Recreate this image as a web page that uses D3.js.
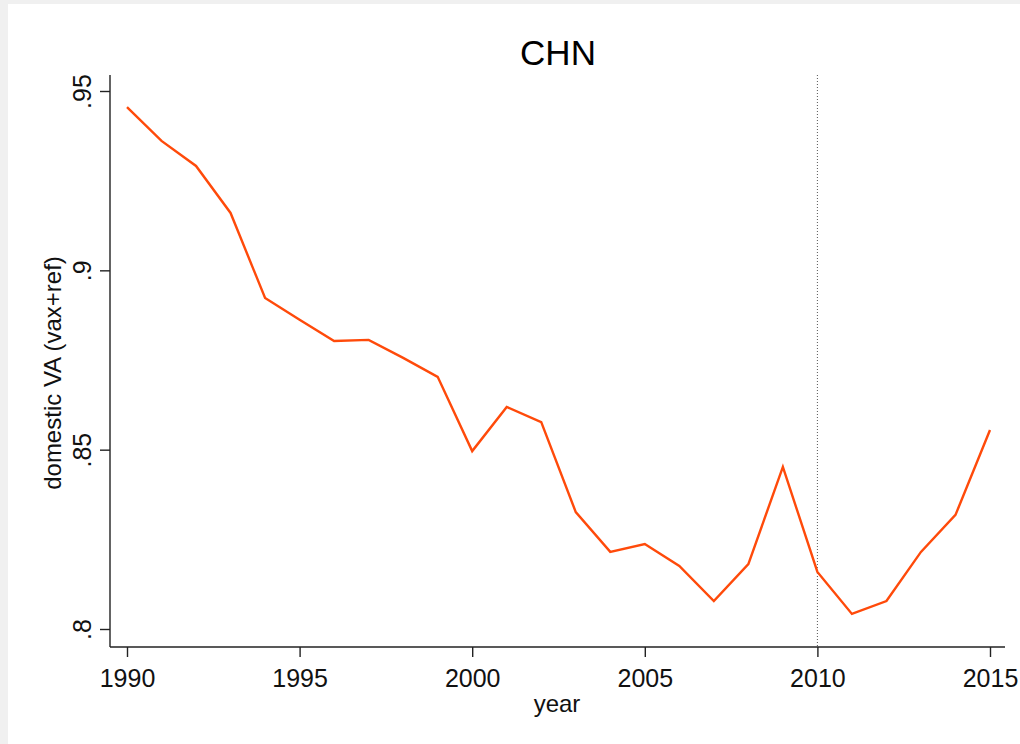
<!DOCTYPE html>
<html><head><meta charset="utf-8">
<script src="https://cdn.jsdelivr.net/npm/d3@7"></script>
<style>html,body{margin:0;padding:0;background:#f0f0f0;} svg{display:block;}</style>
</head><body>
<svg id="chart" width="1020" height="744"></svg>
<script>
const years = [1990,1991,1992,1993,1994,1995,1996,1997,1998,1999,2000,2001,2002,2003,2004,2005,2006,2007,2008,2009,2010,2011,2012,2013,2014,2015];
const domesticVA = [0.9455,0.9361,0.9291,0.9160,0.8923,0.8862,0.8803,0.8806,0.8756,0.8703,0.8496,0.8619,0.8577,0.8326,0.8215,0.8237,0.8176,0.8078,0.8181,0.8452,0.8159,0.8042,0.8078,0.8215,0.8318,0.8555];
const xTicks = [1990,1995,2000,2005,2010,2015];
const yTicks = [0.8,0.85,0.9,0.95];
const yTickLabels = [".8",".85",".9",".95"];
const refYear = 2010;
const title = "CHN";
const xTitle = "year";
const yTitle = "domestic VA (vax+ref)";

const svg = d3.select("#chart");
const font = "'Liberation Sans', Arial, sans-serif";
svg.append("rect").attr("x",8).attr("y",4).attr("width",1012).attr("height",740).attr("fill","#fff");

const x = d3.scaleLinear().domain([1990,2015]).range([127,990]);
const y = d3.scaleLinear().domain([0.8,0.95]).range([629,91]);
const plotLeft = 110, plotRight = 1005, plotTop = 75, plotBottom = 647;

// reference line
svg.append("line").attr("x1",x(refYear)).attr("x2",x(refYear))
  .attr("y1",plotTop).attr("y2",plotBottom)
  .attr("stroke","#555").attr("stroke-width",1).attr("stroke-dasharray","1,2");

// series line
svg.append("path").datum(years.map((yr,i)=>[yr,domesticVA[i]]))
  .attr("fill","none").attr("stroke","#ff4a0a").attr("stroke-width",2.4)
  .attr("stroke-linejoin","miter")
  .attr("d", d3.line().x(d=>x(d[0])).y(d=>y(d[1])));

// x axis
const xAxis = svg.append("g").attr("transform",`translate(0,${plotBottom})`)
  .call(d3.axisBottom(x).tickValues(xTicks).tickFormat(d3.format("d")).tickSize(10).tickSizeOuter(0));
xAxis.select(".domain").attr("d",`M${plotLeft},0H${plotRight}`).attr("stroke","#222").attr("stroke-width",1.4);
xAxis.selectAll(".tick line").attr("stroke","#222").attr("stroke-width",1.4);
xAxis.selectAll("text").attr("font-family",font).attr("font-size",25).attr("fill","#111")
  .attr("y",40).attr("dy",null);

// y axis
const yAxis = svg.append("g").attr("transform",`translate(${plotLeft},0)`)
  .call(d3.axisLeft(y).tickValues(yTicks).tickFormat((d,i)=>yTickLabels[i]).tickSize(10).tickSizeOuter(0));
yAxis.select(".domain").attr("d",`M0,${plotTop}V${plotBottom}`).attr("stroke","#222").attr("stroke-width",1.4);
yAxis.selectAll(".tick line").attr("stroke","#222").attr("stroke-width",1.4);
yAxis.selectAll(".tick text")
  .attr("font-family",font).attr("font-size",25).attr("fill","#111")
  .attr("x",0).attr("dy",null)
  .attr("text-anchor","middle")
  .attr("transform","translate(-19,0) rotate(-90)");

// titles
svg.append("text").attr("x",558).attr("y",65).attr("text-anchor","middle")
  .attr("font-family",font).attr("font-size",35).attr("fill","#000").text(title);
svg.append("text").attr("x",557).attr("y",712).attr("text-anchor","middle")
  .attr("font-family",font).attr("font-size",24).attr("fill","#111").text(xTitle);
svg.append("text").attr("transform",`translate(61,373) rotate(-90)`)
  .attr("text-anchor","middle")
  .attr("font-family",font).attr("font-size",24).attr("fill","#111").text(yTitle);
</script>
</body></html>
